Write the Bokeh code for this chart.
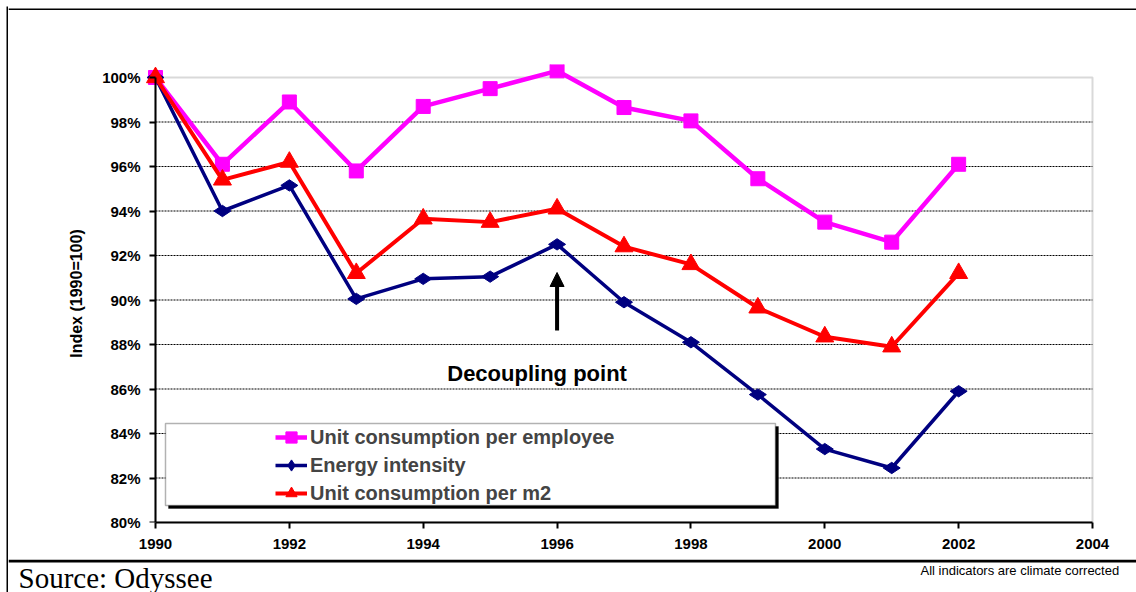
from bokeh.plotting import figure
from bokeh.models import (Range1d, FixedTicker, BoxAnnotation, Legend, LegendItem,
                          Arrow, NormalHead, Label, LinearAxis, Plot)
from bokeh.layouts import row, column
from bokeh.embed import file_html
from bokeh.resources import INLINE

# ---------------- data ----------------
years = [1990, 1991, 1992, 1993, 1994, 1995, 1996, 1997, 1998, 1999, 2000, 2001, 2002]
per_employee = [100.0, 96.1, 98.9, 95.8, 98.7, 99.5, 100.3, 98.65, 98.05, 95.45, 93.5, 92.6, 96.1]
energy_intensity = [100.0, 94.0, 95.15, 90.05, 90.95, 91.05, 92.5, 89.9, 88.1, 85.75, 83.3, 82.45, 85.9]
per_m2 = [100.0, 95.4, 96.2, 91.2, 93.65, 93.5, 94.1, 92.4, 91.6, 89.65, 88.35, 87.9, 91.2]

x_ticks = [1990, 1992, 1994, 1996, 1998, 2000, 2002, 2004]
y_ticks = [80, 82, 84, 86, 88, 90, 92, 94, 96, 98, 100]
y_tick_labels = ["80%", "82%", "84%", "86%", "88%", "90%", "92%", "94%", "96%", "98%", "100%"]
grid_ticks = [82, 84, 86, 88, 90, 92, 94, 96, 98]

series_names = ["Unit consumption per employee", "Energy intensity", "Unit consumption per m2"]
source_text = "Source: Odyssee"
note_text = "All indicators are climate corrected"
annotation_text = "Decoupling point"
y_title = "Index (1990=100)"

PINK = "#FF00FF"
NAVY = "#000080"
RED = "#FF0000"
FONT = "Liberation Sans"

PX_X = 66.93   # px per year
PX_Y = 22.25   # px per percent

TOTAL_W, TOTAL_H = 1136, 592
STRIP_W = 8
W = TOTAL_W - STRIP_W          # 1128
HEAD_H, MAIN_H = 10, 549
FOOT_H = TOTAL_H - HEAD_H - MAIN_H   # 33


def blank(width, height, x0, x1, ytop, ybot):
    pl = Plot(width=width, height=height, x_range=Range1d(x0, x1),
              y_range=Range1d(ybot, ytop), min_border=0, toolbar_location=None,
              output_backend="svg", outline_line_color=None, title=None,
              background_fill_color="white", border_fill_color="white",
              frame_align=False)
    return pl


def band(pl, left, right, top, bottom):
    pl.add_layout(BoxAnnotation(left=left, right=right, top=top, bottom=bottom,
                                fill_color="black", fill_alpha=1, line_alpha=0))


# left strip with the vertical frame line
strip = blank(STRIP_W, TOTAL_H, 0, STRIP_W, 0, TOTAL_H)
band(strip, 6, 8, 6, TOTAL_H)

# header with the top frame line
header = blank(W, HEAD_H, STRIP_W, TOTAL_W, 0, HEAD_H)
band(header, STRIP_W, TOTAL_W, 6, 9)

# ---------------- main chart ----------------
p = figure(width=W, height=MAIN_H, output_backend="svg", toolbar_location=None,
           x_range=Range1d(1990 - 10 / PX_X, 2004 + 4 / PX_X),
           y_range=Range1d(80, 80 + 458 / PX_Y),
           min_border_left=137, min_border_right=40, min_border_top=54,
           min_border_bottom=37, frame_align=False)
p.outline_line_color = None
p.background_fill_color = "white"
p.border_fill_color = "white"
p.xgrid.visible = False
p.ygrid.visible = False

# plot area frame (grey top/right)
p.add_layout(BoxAnnotation(left=1990, right=2004, bottom=80, top=100,
                           fill_alpha=0, line_color="#808080", line_width=2,
                           level="underlay"))

# dashed grid lines
p.segment(x0=[x_ticks[0]] * len(grid_ticks), x1=[x_ticks[-1]] * len(grid_ticks),
          y0=grid_ticks, y1=grid_ticks, line_color="black", line_width=1.2,
          line_dash="2 1", level="underlay")

# x axis
xa = p.xaxis[0]
xa.ticker = FixedTicker(ticks=x_ticks)
xa.bounds = (x_ticks[0], x_ticks[-1])
xa.axis_line_color = "black"
xa.axis_line_width = 2
xa.major_tick_line_color = "black"
xa.major_tick_line_width = 2
xa.major_tick_in = 0
xa.major_tick_out = 6
xa.minor_tick_line_color = None
xa.major_label_standoff = 10
xa.major_label_text_font = FONT
xa.major_label_text_font_style = "bold"
xa.major_label_text_font_size = "15px"
xa.major_label_text_color = "black"

# y axis (labels only, at the frame edge)
ya = p.yaxis[0]
ya.ticker = FixedTicker(ticks=y_ticks)
ya.major_label_overrides = {t: s for t, s in zip(y_ticks, y_tick_labels)}
ya.bounds = (80, 100)
ya.axis_line_color = None
ya.major_tick_line_color = None
ya.minor_tick_line_color = None
ya.major_tick_in = 0
ya.major_tick_out = 0
ya.major_label_standoff = 5
ya.major_label_text_font = FONT
ya.major_label_text_font_style = "bold"
ya.major_label_text_font_size = "15px"
ya.major_label_text_color = "black"
ya.axis_label = y_title
ya.axis_label_text_font = FONT
ya.axis_label_text_font_style = "bold"
ya.axis_label_text_font_size = "16px"
ya.axis_label_text_color = "black"
ya.axis_label_standoff = 14

# y axis line and ticks at 1990
ya2 = LinearAxis(ticker=FixedTicker(ticks=y_ticks), bounds=(80, 100), fixed_location=1990,
                 axis_line_color="black", axis_line_width=2,
                 major_tick_line_color="black", major_tick_line_width=2,
                 major_tick_in=0, major_tick_out=6, minor_tick_line_color=None,
                 major_label_text_font_size="0px", major_label_text_alpha=0)
p.add_layout(ya2, "left")

# series
r1l = p.line(years, per_employee, line_color=PINK, line_width=4.5)
r1m = p.scatter(years, per_employee, marker="square", size=14, fill_color=PINK, line_color=PINK)
r2l = p.line(years, energy_intensity, line_color=NAVY, line_width=3.5)
r2m = p.scatter(years, energy_intensity, marker="diamond", angle=1.5708, size=17,
                fill_color=NAVY, line_color=NAVY)
r3l = p.line(years, per_m2, line_color=RED, line_width=4)
r3m = p.scatter(years, per_m2, marker="triangle", size=18, fill_color=RED, line_color=RED)

# legend box with shadow
p.add_layout(BoxAnnotation(left=1990 + 13 / PX_X, right=1999.263 + 3 / PX_X,
                           top=100 - (426 - 77) / PX_Y, bottom=100 - (508 - 77) / PX_Y,
                           fill_color="black", fill_alpha=1, line_color="black"))
p.add_layout(BoxAnnotation(left=1990 + 10 / PX_X, right=1999.263,
                           top=100 - (423 - 77) / PX_Y, bottom=100 - (505 - 77) / PX_Y,
                           fill_color="white", fill_alpha=1, line_color="black",
                           line_width=1.5))

legend = Legend(items=[LegendItem(label=series_names[0], renderers=[r1l, r1m]),
                       LegendItem(label=series_names[1], renderers=[r2l, r2m]),
                       LegendItem(label=series_names[2], renderers=[r3l, r3m])],
                location=(130, 15), orientation="vertical", padding=0, margin=0,
                spacing=0, glyph_width=32, glyph_height=28, label_height=28,
                label_standoff=3, label_text_font=FONT, label_text_font_style="bold",
                label_text_font_size="20px", border_line_alpha=0,
                background_fill_alpha=0)
p.add_layout(legend)

# annotation
p.add_layout(Arrow(end=NormalHead(size=14, fill_color="black", line_color="black"),
                   x_start=1996, y_start=100 - (330 - 77) / PX_Y,
                   x_end=1996, y_end=100 - (272 - 77) / PX_Y,
                   line_color="black", line_width=4))
p.add_layout(Label(x=1996 - 20 / PX_X, y=100 - (373 - 77) / PX_Y, text=annotation_text,
                   text_align="center", text_baseline="alphabetic", text_font=FONT,
                   text_font_style="bold", text_font_size="22px", text_color="black"))

# ---------------- footer ----------------
foot_top = HEAD_H + MAIN_H   # 559
footer = blank(W, FOOT_H, STRIP_W, TOTAL_W, foot_top, TOTAL_H)
band(footer, STRIP_W, TOTAL_W, 559, 562)
footer.add_layout(Label(x=18, y=577, text=source_text, text_font="Liberation Serif",
                        text_font_size="29px", text_baseline="alphabetic",
                        text_color="black"))
footer.add_layout(Label(x=920, y=570, text=note_text, text_font=FONT,
                        text_font_size="13px", text_baseline="alphabetic",
                        text_color="black"))

layout = row(strip, column(header, p, footer, spacing=0), spacing=0)
open("out.html", "w").write(file_html(layout, INLINE))
